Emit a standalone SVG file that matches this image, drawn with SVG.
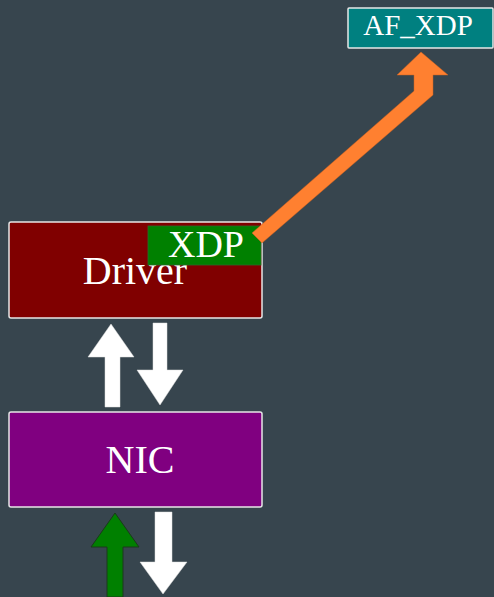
<svg xmlns="http://www.w3.org/2000/svg" width="494" height="597" viewBox="0 0 494 597">
  <style>
    .box { stroke: #e6e6e6; stroke-width: 1.5; }
    .lbl { font-family: "Liberation Serif", "Times New Roman", serif; fill: #ffffff; text-anchor: middle; }
    .white { fill: #ffffff; stroke: #dddddd; stroke-width: 0.5; }
  </style>
  <rect width="494" height="597" fill="#37454e"/>

  <g id="nic">
    <rect class="box" x="9" y="412" width="253" height="95" rx="2" fill="#800080"/>
    <text class="lbl" x="140" y="473" font-size="40">NIC</text>
  </g>

  <g id="driver">
    <rect class="box" x="9" y="222" width="253" height="96" rx="2" fill="#800000"/>
    <text class="lbl" x="135" y="284" font-size="40">Driver</text>
  </g>

  <g id="xdp">
    <rect x="148" y="226" width="113" height="39" fill="#008000" stroke="#2a6a2a" stroke-width="0.8"/>
    <text class="lbl" x="206" y="257" font-size="38">XDP</text>
  </g>

  <g id="af_xdp">
    <rect class="box" x="348" y="8" width="145" height="40" rx="1" fill="#008080"/>
    <text class="lbl" x="418" y="35" font-size="29">AF_XDP</text>
  </g>

  <g id="connectors">
    <!-- XDP redirect to AF_XDP socket -->
    <polygon fill="#ff8030" stroke="#c86020" stroke-width="0.5"
      points="421,52 448,75 433,75 433,95 262,243 252,233 414,91 414,75 397,75"/>
    <!-- Driver <-> NIC -->
    <polygon class="white" points="111,324 134,357 120,357 120,407 105,407 105,357 88,357"/>
    <polygon class="white" points="153,323 167,323 167,370 183,370 160,405 137,370 153,370"/>
    <!-- NIC <-> wire -->
    <polygon fill="#008000" stroke="#1a3a1a" stroke-width="1" points="115,513 139,547 123,547 123,597 107,597 107,547 91,547"/>
    <polygon class="white" points="155,512 172,512 172,562 187,562 163,594 140,562 155,562"/>
  </g>
</svg>
